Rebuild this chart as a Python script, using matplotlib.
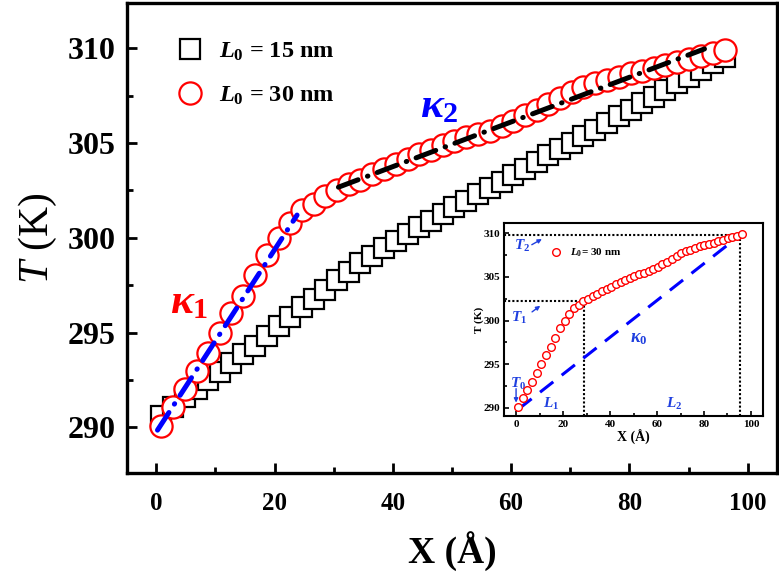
import matplotlib
matplotlib.use('Agg')
import matplotlib.pyplot as plt
from matplotlib.ticker import MultipleLocator

plt.rcParams['font.family'] = ['Liberation Serif', 'DejaVu Serif']
plt.rcParams['mathtext.fontset'] = 'custom'
plt.rcParams['mathtext.rm'] = 'Liberation Serif:bold'
plt.rcParams['mathtext.it'] = 'Liberation Serif:italic:bold'
plt.rcParams['mathtext.bf'] = 'Liberation Serif:bold'
plt.rcParams['mathtext.sf'] = 'Liberation Serif:italic'

# ---------------- data ----------------
x_pos = [0.8, 2.8, 4.8, 6.8, 8.7, 10.7, 12.7, 14.7, 16.7, 18.7, 20.7, 22.6,
         24.6, 26.6, 28.6, 30.6, 32.6, 34.5, 36.5, 38.5, 40.5, 42.5, 44.5,
         46.4, 48.4, 50.4, 52.4, 54.4, 56.4, 58.4, 60.3, 62.3, 64.3, 66.3,
         68.3, 70.3, 72.2, 74.2, 76.2, 78.2, 80.2, 82.2, 84.2, 86.1, 88.1,
         90.1, 92.1, 94.1, 96.1]

t_15nm = [290.6, 291.1, 291.6, 292.05, 292.5, 292.95, 293.4, 293.85, 294.3,
          294.8, 295.35, 295.85, 296.35, 296.8, 297.25, 297.75, 298.2, 298.65,
          299.05, 299.45, 299.85, 300.2, 300.55, 300.9, 301.25, 301.6, 301.95,
          302.3, 302.65, 302.95, 303.3, 303.65, 304.0, 304.35, 304.7, 305.0,
          305.35, 305.7, 306.05, 306.4, 306.75, 307.1, 307.45, 307.8, 308.15,
          308.5, 308.85, 309.2, 309.55]

t_30nm = [290.1, 291.1, 292.05, 293.0, 293.95, 295.0, 296.05, 296.95, 298.05,
          299.1, 300.0, 300.8, 301.45, 301.8, 302.2, 302.5, 302.85, 303.05,
          303.35, 303.65, 303.9, 304.15, 304.4, 304.62, 304.9, 305.1, 305.3,
          305.45, 305.65, 305.9, 306.15, 306.5, 306.75, 307.05, 307.35, 307.7,
          307.95, 308.15, 308.33, 308.5, 308.68, 308.8, 308.94, 309.1, 309.25,
          309.45, 309.58, 309.74, 309.9]

# fitted segments
k1_x = [0.2, 23.8]
k1_y = [289.86, 301.2]
k2_x = [30.8, 92.7]
k2_y = [302.67, 309.96]
k0_x = [1.0, 89.5]
k0_y = [289.85, 308.55]

# inset guide values
T1_val, L1_val = 302.2, 29.0
T2_val, L2_val = 309.8, 95.5

labels = [r'$L_0$ = 15 nm', r'$L_0$ = 30 nm']

# ---------------- figure ----------------
fig = plt.figure(figsize=(7.79, 5.75), dpi=100)
ax = fig.add_axes([0.1627, 0.1774, 0.835, 0.818])

ax.plot(x_pos, t_15nm, linestyle='none', marker='s', ms=15, mfc='white',
        mec='black', mew=1.6, label=labels[0], zorder=3)
ax.plot(x_pos, t_30nm, linestyle='none', marker='o', ms=16, mfc='white',
        mec='#ff0000', mew=1.6, label=labels[1], zorder=4)

ax.plot(k1_x, k1_y, color='#0000ff', lw=3.6, dashes=(4.2, 2.0, 0.1, 2.0),
        dash_capstyle='round', zorder=5)
ax.plot(k2_x, k2_y, color='black', lw=3.6, dashes=(4.2, 2.0, 0.1, 2.0),
        dash_capstyle='round', zorder=5)

ax.set_xlim(-5, 105)
ax.set_ylim(287.6, 312.4)
ax.xaxis.set_major_locator(MultipleLocator(20))
ax.xaxis.set_minor_locator(MultipleLocator(10))
ax.yaxis.set_major_locator(MultipleLocator(5))
ax.yaxis.set_minor_locator(MultipleLocator(2.5))
ax.tick_params(which='major', direction='in', length=7, width=2)
ax.tick_params(which='minor', direction='in', length=4, width=2)
ax.tick_params(axis='y', which='major', labelsize=23, pad=8)
ax.tick_params(axis='x', which='major', labelsize=18, pad=14)
for lab in ax.get_xticklabels() + ax.get_yticklabels():
    lab.set_fontweight('bold')
for sp in ax.spines.values():
    sp.set_linewidth(2.4)

ax.set_xlabel('X (Å)', fontsize=27, fontweight='bold', labelpad=11)
ax.set_ylabel(r'$\mathsf{T}$ (K)', fontsize=30, labelpad=6)

leg = ax.legend(loc='center left', bbox_to_anchor=(0.079, 0.849),
                frameon=False, fontsize=17.5, handlelength=0.95,
                handletextpad=0.75, labelspacing=0.9, borderpad=0,
                borderaxespad=0)
for t in leg.get_texts():
    t.set_fontweight('bold')

ax.text(5.55, 296.56, r'$\kappa_1$', color='#ff0000', fontsize=31,
        ha='center', va='center')
ax.text(47.9, 306.9, r'$\kappa_2$', color='#0000ff', fontsize=31,
        ha='center', va='center')

# ---------------- inset ----------------
ins = fig.add_axes([0.6474, 0.277, 0.3317, 0.3346])
ins.plot(x_pos, t_30nm, linestyle='none', marker='o', ms=5.5, mfc='white',
         mec='#ff0000', mew=1.0, label=r'$L_0$= 30 nm', zorder=4)
ins.plot(k0_x, k0_y, color='#0000ff', lw=2.2, dashes=(5.5, 3.5), zorder=3)

ins.set_xlim(-5, 105)
ins.set_ylim(289.1, 311.15)
ins.plot([-5, L2_val], [T2_val, T2_val], color='black', lw=1.5, dashes=(1, 1))
ins.plot([L2_val, L2_val], [289.1, T2_val], color='black', lw=1.5, dashes=(1, 1))
ins.plot([-5, L1_val], [T1_val, T1_val], color='black', lw=1.5, dashes=(1, 1))
ins.plot([L1_val, L1_val], [289.1, T1_val], color='black', lw=1.5, dashes=(1, 1))

ins.xaxis.set_major_locator(MultipleLocator(20))
ins.xaxis.set_minor_locator(MultipleLocator(10))
ins.yaxis.set_major_locator(MultipleLocator(5))
ins.yaxis.set_minor_locator(MultipleLocator(2.5))
ins.tick_params(which='major', direction='in', length=3.5, width=1.2,
                labelsize=8, pad=3)
ins.tick_params(which='minor', direction='in', length=2, width=1.2)
for lab in ins.get_xticklabels() + ins.get_yticklabels():
    lab.set_fontweight('bold')
for sp in ins.spines.values():
    sp.set_linewidth(1.5)
ins.set_xlabel('X (Å)', fontsize=10, fontweight='bold', labelpad=1)
ins.set_ylabel('T (K)', fontsize=8, fontweight='bold', labelpad=0)

ileg = ins.legend(loc='center left', bbox_to_anchor=(0.179, 0.846),
                  frameon=False, fontsize=8, handlelength=1.0,
                  handletextpad=0.75, borderpad=0, borderaxespad=0)
for t in ileg.get_texts():
    t.set_fontweight('bold')

blue = '#1f3fdf'
ins.text(2.6, 308.6, r'$T_2$', color=blue, fontsize=11, ha='center', va='center')
ins.annotate('', xy=(11.0, 309.35), xytext=(6.7, 308.7),
             arrowprops=dict(arrowstyle='-|>', color=blue, lw=1.0,
                             mutation_scale=6, shrinkA=0, shrinkB=0))
ins.text(1.3, 300.3, r'$T_1$', color=blue, fontsize=11, ha='center', va='center')
ins.annotate('', xy=(10.3, 301.7), xytext=(6.8, 301.0),
             arrowprops=dict(arrowstyle='-|>', color=blue, lw=1.0,
                             mutation_scale=6, shrinkA=0, shrinkB=0))
ins.text(0.85, 292.75, r'$T_0$', color=blue, fontsize=11, ha='center', va='center')
ins.annotate('', xy=(0.0, 290.6), xytext=(0.0, 292.2),
             arrowprops=dict(arrowstyle='-|>', color=blue, lw=1.0,
                             mutation_scale=6, shrinkA=0, shrinkB=0))
ins.text(15.0, 290.45, r'$L_1$', color=blue, fontsize=11, ha='center', va='center')
ins.text(67.1, 290.45, r'$L_2$', color=blue, fontsize=11, ha='center', va='center')
ins.text(52.1, 297.9, r'$\kappa_0$', color=blue, fontsize=13, ha='center', va='center')

fig.savefig('out.png', dpi=100)
